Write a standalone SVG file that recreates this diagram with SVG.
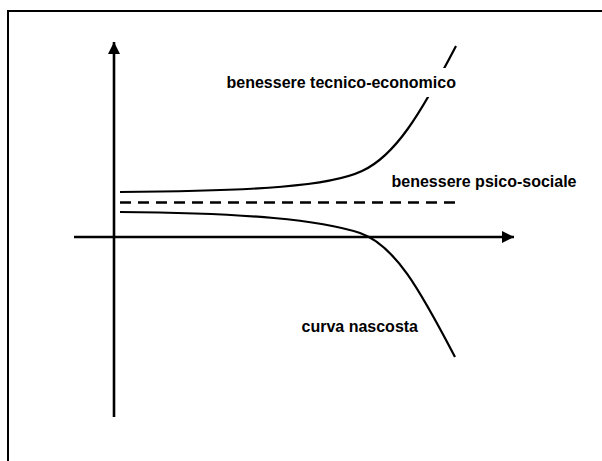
<svg xmlns="http://www.w3.org/2000/svg" width="602" height="461" viewBox="0 0 602 461">
  <style>
    .lbl { font-family: "Liberation Sans", Arial, sans-serif; font-weight: bold; font-size: 16px; fill: #000; }
    .axis { stroke: #000; stroke-width: 2.6; fill: none; }
    .curve { stroke: #000; stroke-width: 2.2; fill: none; }
    .dash { stroke: #000; stroke-width: 2.6; fill: none; stroke-dasharray: 11 7; }
  </style>
  <defs>
    <marker id="arrow" viewBox="0 0 12 12" refX="12" refY="6" markerWidth="12" markerHeight="12" markerUnits="userSpaceOnUse" orient="auto">
      <path d="M0,0 L12,6 L0,12 Z" fill="#000"/>
    </marker>
  </defs>
  <rect x="0" y="0" width="602" height="461" fill="#fff"/>
  <rect id="frame" x="8" y="11" width="700" height="600" fill="none" stroke="#000" stroke-width="2"/>
  <g id="connectors">
    <line id="y-axis" class="axis" x1="114" y1="417" x2="114" y2="42" marker-end="url(#arrow)"/>
    <line id="x-axis" class="axis" x1="74" y1="237" x2="514" y2="237" marker-end="url(#arrow)"/>
    <path id="curve-tecnico" class="curve" d="M120,192 C260,191 330,186 362,171 C395,156 420,115 456,46"/>
    <line id="line-psico" class="dash" x1="120" y1="202.5" x2="456" y2="202.5"/>
    <path id="curve-nascosta" class="curve" d="M120,212 C250,213 320,220 360,233 C395,245 420,290 455,357"/>
  </g>
  <g id="label-tecnico">
    <rect x="220" y="68" width="246" height="29" fill="#fff"/>
    <text class="lbl" x="226.5" y="88">benessere tecnico-economico</text>
  </g>
  <g id="label-psico">
    <text class="lbl" x="391.5" y="187">benessere psico-sociale</text>
  </g>
  <g id="label-nascosta">
    <text class="lbl" x="301.5" y="332">curva nascosta</text>
  </g>
</svg>
